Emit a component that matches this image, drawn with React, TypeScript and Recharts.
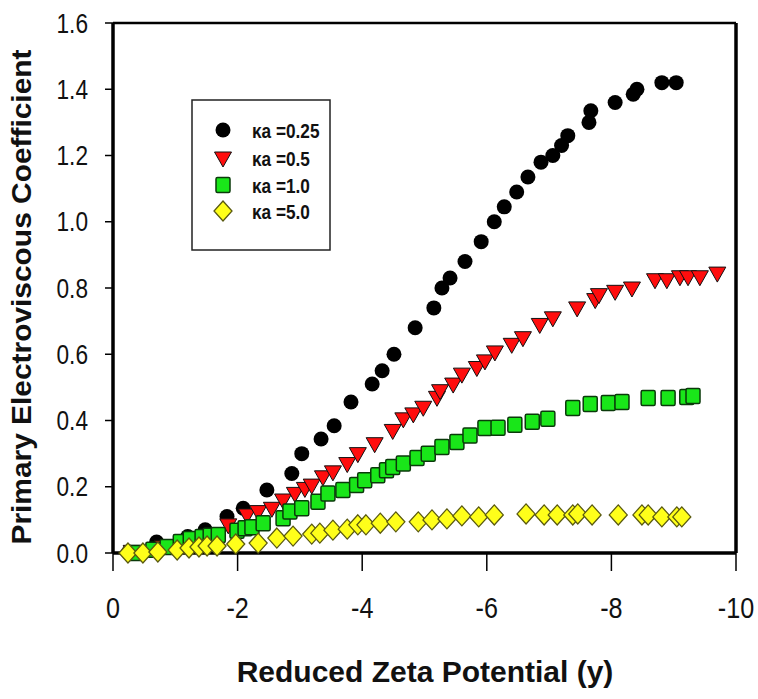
import React from "react";
import {
  ScatterChart,
  Scatter,
  XAxis,
  YAxis,
  ReferenceLine,
} from "recharts";

// reduced zeta potential (x) and primary electroviscous coefficient (y)
const ka025X = [-0.25, -0.7, -1.2, -1.48, -1.83, -2.09, -2.47, -2.87, -3.03, -3.34, -3.55, -3.82, -4.16, -4.32, -4.51, -4.85, -5.15, -5.28, -5.41, -5.65, -5.91, -6.12, -6.28, -6.48, -6.66, -6.87, -7.06, -7.2, -7.3, -7.64, -7.67, -8.06, -8.35, -8.41, -8.81, -9.04];
const ka025Y = [0.003, 0.033, 0.05, 0.07, 0.11, 0.135, 0.19, 0.24, 0.3, 0.344, 0.384, 0.456, 0.51, 0.55, 0.6, 0.68, 0.74, 0.8, 0.83, 0.88, 0.94, 1.0, 1.045, 1.09, 1.135, 1.18, 1.2, 1.23, 1.26, 1.3, 1.335, 1.36, 1.385, 1.4, 1.42, 1.42];

const ka05X = [-0.3, -0.8, -1.3, -1.85, -2.15, -2.33, -2.55, -2.73, -2.92, -3.08, -3.19, -3.37, -3.53, -3.76, -3.93, -4.2, -4.49, -4.66, -4.82, -4.98, -5.2, -5.25, -5.46, -5.6, -5.84, -5.97, -6.13, -6.4, -6.58, -6.85, -7.06, -7.45, -7.74, -7.8, -8.06, -8.33, -8.7, -8.89, -9.1, -9.23, -9.42, -9.7];
const ka05Y = [0.005, 0.02, 0.045, 0.085, 0.115, 0.125, 0.135, 0.16, 0.18, 0.195, 0.205, 0.23, 0.245, 0.27, 0.3, 0.33, 0.37, 0.405, 0.42, 0.44, 0.47, 0.49, 0.51, 0.54, 0.56, 0.58, 0.607, 0.63, 0.65, 0.69, 0.71, 0.74, 0.765, 0.78, 0.79, 0.8, 0.825, 0.825, 0.834, 0.834, 0.834, 0.845];

const ka1X = [-0.35, -0.64, -0.87, -1.08, -1.24, -1.43, -1.56, -1.69, -1.99, -2.12, -2.23, -2.41, -2.73, -2.84, -3.03, -3.29, -3.45, -3.69, -3.91, -4.04, -4.25, -4.39, -4.49, -4.66, -4.88, -5.06, -5.28, -5.52, -5.73, -5.97, -6.18, -6.45, -6.73, -6.98, -7.38, -7.66, -7.95, -8.17, -8.59, -8.91, -9.21, -9.31];
const ka1Y = [0.0, 0.01, 0.018, 0.033, 0.042, 0.048, 0.052, 0.054, 0.067, 0.075, 0.078, 0.09, 0.105, 0.125, 0.135, 0.155, 0.18, 0.19, 0.205, 0.22, 0.235, 0.25, 0.26, 0.27, 0.287, 0.3, 0.32, 0.335, 0.355, 0.377, 0.378, 0.387, 0.396, 0.405, 0.438, 0.45, 0.453, 0.456, 0.468, 0.468, 0.471, 0.474];

const ka5X = [-0.24, -0.48, -0.72, -1.03, -1.22, -1.38, -1.51, -1.67, -1.97, -2.33, -2.63, -2.89, -3.19, -3.32, -3.53, -3.76, -3.93, -4.06, -4.29, -4.54, -4.9, -5.12, -5.36, -5.6, -5.87, -6.12, -6.63, -6.92, -7.13, -7.38, -7.46, -7.69, -8.11, -8.49, -8.59, -8.81, -9.05, -9.13];
const ka5Y = [0.0, 0.0, 0.003, 0.009, 0.015, 0.018, 0.021, 0.021, 0.027, 0.03, 0.045, 0.051, 0.057, 0.06, 0.069, 0.072, 0.085, 0.085, 0.09, 0.094, 0.094, 0.1, 0.103, 0.112, 0.109, 0.115, 0.118, 0.115, 0.115, 0.115, 0.118, 0.115, 0.115, 0.115, 0.115, 0.109, 0.109, 0.109];

const xTicks = [0, -2, -4, -6, -8, -10];
const yTicks = [0, 0.2, 0.4, 0.6, 0.8, 1.0, 1.2, 1.4, 1.6];
const seriesNames = ["κa =0.25", "κa =0.5", "κa =1.0", "κa =5.0"];

const zip = (xs: number[], ys: number[]) => xs.map((x, i) => ({ x, y: ys[i] }));

const SANS = "'Liberation Sans', Arial, sans-serif";

const GREEN = "#19e619";
const YELLOW = "#ffff1a";
const RED = "#ff0d0d";

const Circle = ({ cx, cy }: any) => <circle cx={cx} cy={cy} r={7.5} fill="#000" />;
const TriDown = ({ cx, cy }: any) => (
  <polygon
    points={`${cx - 8.5},${cy - 6} ${cx + 8.5},${cy - 6} ${cx},${cy + 9}`}
    fill={RED}
    stroke="#111"
    strokeWidth={1}
  />
);
const Square = ({ cx, cy }: any) => (
  <rect x={cx - 7} y={cy - 7.5} width={14} height={15} rx={1.5} fill={GREEN} stroke="#0a3a0a" strokeWidth={1.5} />
);
const Diamond = ({ cx, cy }: any) => (
  <polygon
    points={`${cx},${cy - 10} ${cx + 9},${cy} ${cx},${cy + 10} ${cx - 9},${cy}`}
    fill={YELLOW}
    stroke="#5a5a10"
    strokeWidth={1.3}
  />
);

// narrow look: Liberation Sans squeezed sideways
const XTick = ({ x, y, payload }: any) => (
  <text
    transform={`translate(${x},${y + 47}) scale(0.84,1)`}
    textAnchor="middle"
    fontSize={30}
    fontFamily={SANS}
    fill="#111"
  >
    {payload.value}
  </text>
);
const YTick = ({ x, y, payload }: any) => (
  <text
    transform={`translate(${x},${y + 9.5}) scale(0.84,1)`}
    textAnchor="end"
    fontSize={27}
    fontFamily={SANS}
    fill="#111"
  >
    {Number(payload.value).toFixed(1)}
  </text>
);

const legendRows = [Circle, TriDown, Square, Diamond];
const legendY = [130, 158, 185, 211];

export default function App() {
  return (
    <div style={{ position: "absolute", left: 0, top: 0, width: 758, height: 699, background: "#fff" }}>
      <ScatterChart width={758} height={699} margin={{ top: 23, right: 22, bottom: 86, left: 53 }}>
        <XAxis
          type="number"
          dataKey="x"
          domain={[-10, 0]}
          reversed
          ticks={xTicks}
          height={60}
          tickSize={18}
          tickMargin={0}
          tick={<XTick />}
          tickLine={{ stroke: "#000", strokeWidth: 1.5 }}
          axisLine={{ stroke: "#000", strokeWidth: 3.5 }}
        />
        <YAxis
          type="number"
          dataKey="y"
          domain={[0, 1.6]}
          ticks={yTicks}
          width={60}
          tickSize={8}
          tickMargin={17}
          tick={<YTick />}
          tickLine={{ stroke: "#000", strokeWidth: 1.5 }}
          axisLine={{ stroke: "#000", strokeWidth: 3.5 }}
        />
        <ReferenceLine y={1.6} stroke="#000" strokeWidth={2.5} />
        <ReferenceLine x={-10} stroke="#000" strokeWidth={3.5} />
        <Scatter data={zip(ka025X, ka025Y)} shape={<Circle />} isAnimationActive={false} />
        <Scatter data={zip(ka05X, ka05Y)} shape={<TriDown />} isAnimationActive={false} />
        <Scatter data={zip(ka1X, ka1Y)} shape={<Square />} isAnimationActive={false} />
        <Scatter data={zip(ka5X, ka5Y)} shape={<Diamond />} isAnimationActive={false} />
      </ScatterChart>
      <svg width={758} height={699} style={{ position: "absolute", left: 0, top: 0, pointerEvents: "none" }}>
        <rect x={192} y={100} width={138} height={150} fill="none" stroke="#222" strokeWidth={1.5} />
        {legendRows.map((Shape, i) => (
          <g key={seriesNames[i]}>
            <Shape cx={223} cy={legendY[i]} />
            <text
              transform={`translate(252,${legendY[i] + 7.5}) scale(0.82,1)`}
              fontSize={21}
              fontWeight="bold"
              fontFamily={SANS}
              fill="#111"
            >
              {seriesNames[i]}
            </text>
          </g>
        ))}
        <text x={425} y={682} textAnchor="middle" fontSize={30} fontWeight="bold" fontFamily={SANS} fill="#111">
          Reduced Zeta Potential (y)
        </text>
        <text
          x={0}
          y={0}
          transform="translate(31,297) rotate(-90)"
          textAnchor="middle"
          fontSize={28}
          fontWeight="bold"
          fontFamily={SANS}
          textLength={495}
          lengthAdjust="spacingAndGlyphs"
          fill="#111"
        >
          Primary Electroviscous Coefficient
        </text>
      </svg>
    </div>
  );
}
